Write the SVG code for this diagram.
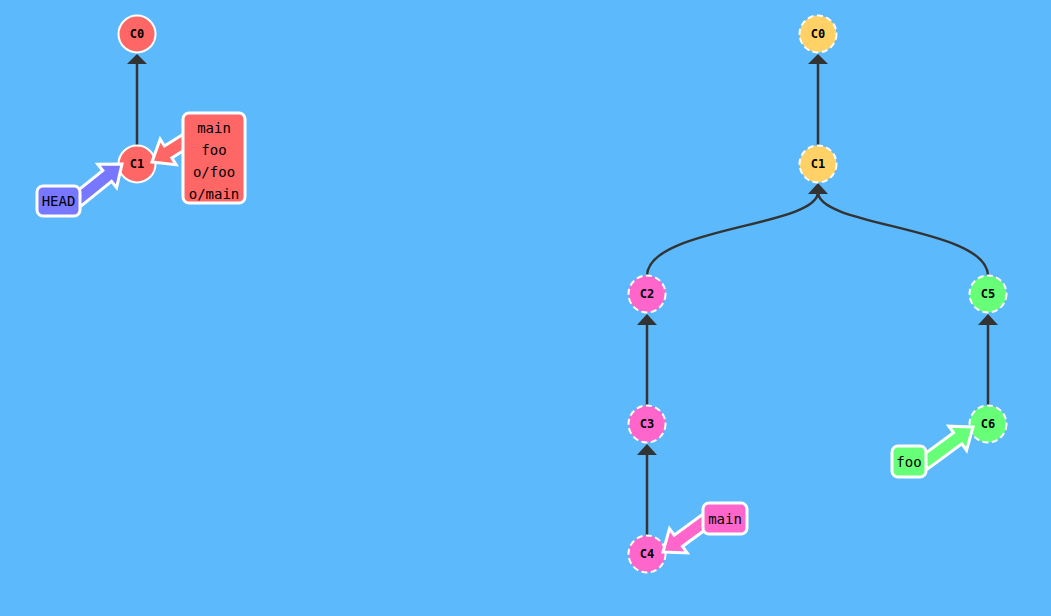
<svg xmlns="http://www.w3.org/2000/svg" width="1051" height="616" viewBox="0 0 1051 616">
<style>
.edge{fill:none;stroke:#333;stroke-width:2.5}
.head{fill:#333}
.c{stroke:#fff;stroke-width:2}
.o{stroke:#fff;stroke-width:2;stroke-dasharray:6 3.5}
.ct{font-family:"DejaVu Sans Mono",monospace;font-weight:bold;font-size:12px;fill:#000;text-anchor:middle;dominant-baseline:central}
.bt{font-family:"DejaVu Sans Mono",monospace;font-size:14px;fill:#000;text-anchor:middle;dominant-baseline:central}
.arr{stroke:#fff;stroke-width:3;stroke-linejoin:miter}
.box{stroke:#fff;stroke-width:3}
</style>
<rect width="1051" height="616" fill="#5cbafc"/>
<g id="connectors">
<line class="edge" x1="137" y1="146" x2="137" y2="63"/>
<polygon class="head" points="137,54 127,64 147,64"/>
<line class="edge" x1="818" y1="146" x2="818" y2="63"/>
<polygon class="head" points="818,54 808,64 828,64"/>
<path class="edge" d="M647 276 C647 227,818 227,818 192"/>
<path class="edge" d="M988 276 C988 227,818 227,818 192"/>
<polygon class="head" points="818,183 808,194 828,194"/>
<line class="edge" x1="647" y1="406" x2="647" y2="323"/>
<polygon class="head" points="647,314 637,325 657,325"/>
<line class="edge" x1="647" y1="536" x2="647" y2="453"/>
<polygon class="head" points="647,444 637,455 657,455"/>
<line class="edge" x1="988" y1="406" x2="988" y2="323"/>
<polygon class="head" points="988,314 978,325 998,325"/>
</g>
<g id="local-C0"><circle class="c" cx="137" cy="34" r="18.5" fill="#ff6666"/><text class="ct" x="137" y="34">C0</text></g>
<g id="local-C1"><circle class="c" cx="137" cy="164" r="18.5" fill="#ff6666"/><text class="ct" x="137" y="164">C1</text></g>
<g id="remote-C0"><circle class="o" cx="818" cy="34" r="18.5" fill="#ffd166"/><text class="ct" x="818" y="34">C0</text></g>
<g id="remote-C1"><circle class="o" cx="818" cy="164" r="18.5" fill="#ffd166"/><text class="ct" x="818" y="164">C1</text></g>
<g id="remote-C2"><circle class="o" cx="647" cy="294" r="18.5" fill="#ff66cc"/><text class="ct" x="647" y="294">C2</text></g>
<g id="remote-C3"><circle class="o" cx="647" cy="424" r="18.5" fill="#ff66cc"/><text class="ct" x="647" y="424">C3</text></g>
<g id="remote-C4"><circle class="o" cx="647" cy="554" r="18.5" fill="#ff66cc"/><text class="ct" x="647" y="554">C4</text></g>
<g id="remote-C5"><circle class="o" cx="988" cy="294" r="18.5" fill="#66ff77"/><text class="ct" x="988" y="294">C5</text></g>
<g id="remote-C6"><circle class="o" cx="988" cy="424" r="18.5" fill="#66ff77"/><text class="ct" x="988" y="424">C6</text></g>
<g id="HEAD">
<polygon class="arr" fill="#7777ff" transform="translate(122,164) rotate(-38.8)" points="0,0 -19,-15 -19,-7 -58,-7 -58,7 -19,7 -19,15"/>
<rect class="box" x="37" y="186" width="43" height="30" rx="6" fill="#7777ff"/>
<text class="bt" x="58.5" y="201">HEAD</text>
</g>
<g id="local-branches">
<polygon class="arr" fill="#ff6666" transform="translate(152,162) rotate(148)" points="0,0 -19,-15 -19,-7 -44,-7 -44,7 -19,7 -19,15"/>
<rect class="box" x="183" y="113" width="62" height="90" rx="6" fill="#ff6666"/>
<text class="bt" x="214" y="128">main</text>
<text class="bt" x="214" y="150">foo</text>
<text class="bt" x="214" y="172">o/foo</text>
<text class="bt" x="214" y="194">o/main</text>
</g>
<g id="remote-main">
<polygon class="arr" fill="#ff66cc" transform="translate(663,552) rotate(143.8)" points="0,0 -19,-15 -19,-7 -56,-7 -56,7 -19,7 -19,15"/>
<rect class="box" x="703" y="503" width="44" height="31" rx="6" fill="#ff66cc"/>
<text class="bt" x="725" y="518.5">main</text>
</g>
<g id="remote-foo">
<polygon class="arr" fill="#66ff77" transform="translate(973,427) rotate(-36.3)" points="0,0 -19,-15 -19,-7 -61,-7 -61,7 -19,7 -19,15"/>
<rect class="box" x="892" y="446" width="34" height="31" rx="6" fill="#66ff77"/>
<text class="bt" x="909" y="461.5">foo</text>
</g>
</svg>
